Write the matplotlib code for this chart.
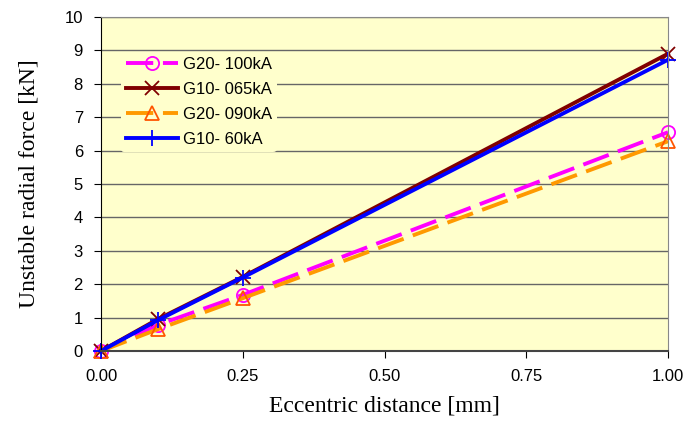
import numpy as np
import matplotlib.pyplot as plt

# dados
dist = [0.0, 0.1, 0.25, 1.0]
g20_100 = [0.0, 0.78, 1.68, 6.55]
g10_065 = [0.0, 0.95, 2.22, 8.9]
g20_090 = [0.0, 0.65, 1.58, 6.28]
g10_60 = [0.0, 0.92, 2.2, 8.72]

fig = plt.figure(figsize=(6.99, 4.21), dpi=100)
ax = fig.add_axes([101/699, 1 - 351/421, 567/699, 334/421])
ax.set_facecolor("#FFFFCC")

ax.plot(dist, g20_100, color="#FF00FF", lw=2.8, dashes=(7, 2.5), marker="o", ms=9.5,
        mfc="none", mec="#FF00FF", mew=1.3, label="G20- 100kA", clip_on=False)
ax.plot(dist, g10_065, color="#800000", lw=2.8, marker="x", ms=9.5, mew=1.3,
        label="G10- 065kA", clip_on=False)
ax.plot(dist, g20_090, color="#FF9900", lw=2.8, dashes=(7, 2.5), marker="^", ms=9.5,
        mfc="none", mec="#FF5500", mew=1.3, label="G20- 090kA", clip_on=False)
ax.plot(dist, g10_60, color="#0000FF", lw=2.8, marker="+", ms=11, mew=1.3,
        label="G10- 60kA", clip_on=False)

ax.set_xlim(0, 1)
ax.set_ylim(0, 10)
ax.set_xticks([0, 0.25, 0.5, 0.75, 1.0])
ax.set_xticklabels(["0.00", "0.25", "0.50", "0.75", "1.00"])
ax.set_yticks(range(0, 11))
ax.grid(axis="y", color="#666666", lw=1)
ax.set_axisbelow(True)
for s in ["top", "right"]:
    ax.spines[s].set_color("#888888")
ax.spines["left"].set_color("black")
ax.spines["bottom"].set_color("#444444")
ax.spines["bottom"].set_linewidth(1.5)
ax.tick_params(labelsize=12, length=5, pad=8)
for lb in ax.get_xticklabels() + ax.get_yticklabels():
    lb.set_family("Liberation Sans")

ax.set_xlabel("Eccentric distance [mm]", family="Liberation Serif", fontsize=17, labelpad=8)
ax.set_ylabel("Unstable radial force [kN]", family="Liberation Serif", fontsize=17, labelpad=18)

leg = ax.legend(loc="upper left", bbox_to_anchor=(0.035, 0.895), frameon=True,
                prop={"family": "Liberation Sans", "size": 12}, handlelength=3.1,
                handletextpad=0.3, labelspacing=0.6, borderaxespad=0, borderpad=0.3)
leg.get_frame().set_facecolor("#FFFFCC")
leg.get_frame().set_edgecolor("none")
leg.get_frame().set_alpha(1)

fig.savefig("out.png", dpi=100)
